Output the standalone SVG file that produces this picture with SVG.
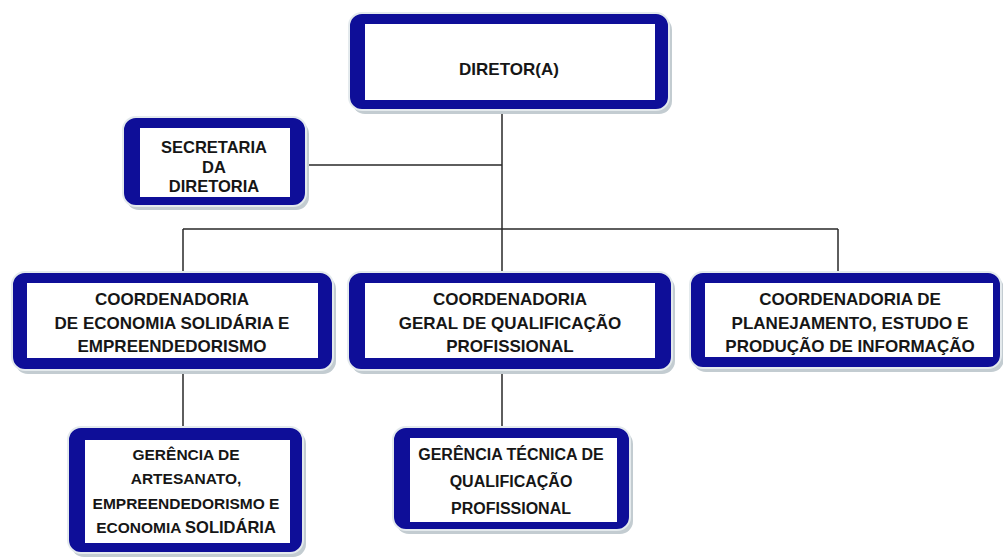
<svg xmlns="http://www.w3.org/2000/svg" width="1003" height="559" viewBox="0 0 1003 559">
<style>
.sh{fill:#c3ccd1}
.ob{fill:#0e0e98;stroke:#e4eaed;stroke-width:2}
.in{fill:#ffffff}
.t{font-family:"Liberation Sans",Arial,sans-serif;font-weight:bold;font-size:17px;fill:#161616;text-anchor:middle}
.s{font-size:16.5px}
.g{font-size:15.5px}
.m{font-size:16px}
.c{stroke:#2a2a2a;stroke-width:1.5;fill:none}
</style>
<rect width="1003" height="559" fill="#ffffff"/>
<g id="connectors">
<path class="c" d="M502 110V272M306 165H502M183 229H838M183 229V272M838 229V272M183 370V427M502 370V427"/>
</g>
<g id="diretor">
<rect class="sh" x="352" y="17" width="320" height="97" rx="13"/>
<rect class="ob" x="349" y="13" width="320" height="97" rx="13"/>
<rect class="in" x="365" y="24" width="290" height="76"/>
<text class="t" x="509" y="75">DIRETOR(A)</text>
</g>
<g id="secretaria">
<rect class="sh" x="126" y="121" width="183" height="89" rx="13"/>
<rect class="ob" x="123" y="117" width="183" height="89" rx="13"/>
<rect class="in" x="140" y="128" width="150" height="69"/>
<text class="t s" x="214" y="153">SECRETARIA</text>
<text class="t s" x="214" y="173">DA</text>
<text class="t s" x="214" y="192">DIRETORIA</text>
</g>
<g id="coord-economia">
<rect class="sh" x="15" y="276" width="321" height="98" rx="13"/>
<rect class="ob" x="12" y="272" width="321" height="98" rx="13"/>
<rect class="in" x="27" y="283" width="291" height="75"/>
<text class="t" x="172" y="305">COORDENADORIA</text>
<text class="t" x="172" y="329">DE ECONOMIA SOLIDÁRIA E</text>
<text class="t" x="172" y="352">EMPREENDEDORISMO</text>
</g>
<g id="coord-qualificacao">
<rect class="sh" x="351" y="276" width="324" height="98" rx="13"/>
<rect class="ob" x="348" y="272" width="324" height="98" rx="13"/>
<rect class="in" x="365" y="283" width="290" height="75"/>
<text class="t" x="510" y="305">COORDENADORIA</text>
<text class="t" x="510" y="329">GERAL DE QUALIFICAÇÃO</text>
<text class="t" x="510" y="352">PROFISSIONAL</text>
</g>
<g id="coord-planejamento">
<rect class="sh" x="693" y="276" width="311" height="96" rx="13"/>
<rect class="ob" x="690" y="272" width="311" height="96" rx="13"/>
<rect class="in" x="705" y="283" width="288" height="74"/>
<text class="t" x="850" y="305">COORDENADORIA DE</text>
<text class="t" x="850" y="329">PLANEJAMENTO, ESTUDO E</text>
<text class="t" x="850" y="352">PRODUÇÃO DE INFORMAÇÃO</text>
</g>
<g id="gerencia-artesanato">
<rect class="sh" x="71" y="431" width="235" height="126" rx="13"/>
<rect class="ob" x="68" y="427" width="235" height="126" rx="13"/>
<rect class="in" x="85" y="440" width="205" height="103"/>
<text class="t g" x="186" y="460">GERÊNCIA DE</text>
<text class="t g" x="186" y="484">ARTESANATO,</text>
<text class="t g" x="186" y="509">EMPREENDEDORISMO E</text>
<text class="t g" x="186" y="533">ECONOMIA <tspan style="font-size:16.5px">SOLIDÁRIA</tspan></text>
</g>
<g id="gerencia-tecnica">
<rect class="sh" x="396" y="431" width="237" height="103" rx="13"/>
<rect class="ob" x="393" y="427" width="237" height="103" rx="13"/>
<rect class="in" x="410" y="438" width="207" height="84"/>
<text class="t m" x="511" y="460">GERÊNCIA TÉCNICA DE</text>
<text class="t m" x="511" y="487">QUALIFICAÇÃO</text>
<text class="t m" x="511" y="514">PROFISSIONAL</text>
</g>
</svg>
